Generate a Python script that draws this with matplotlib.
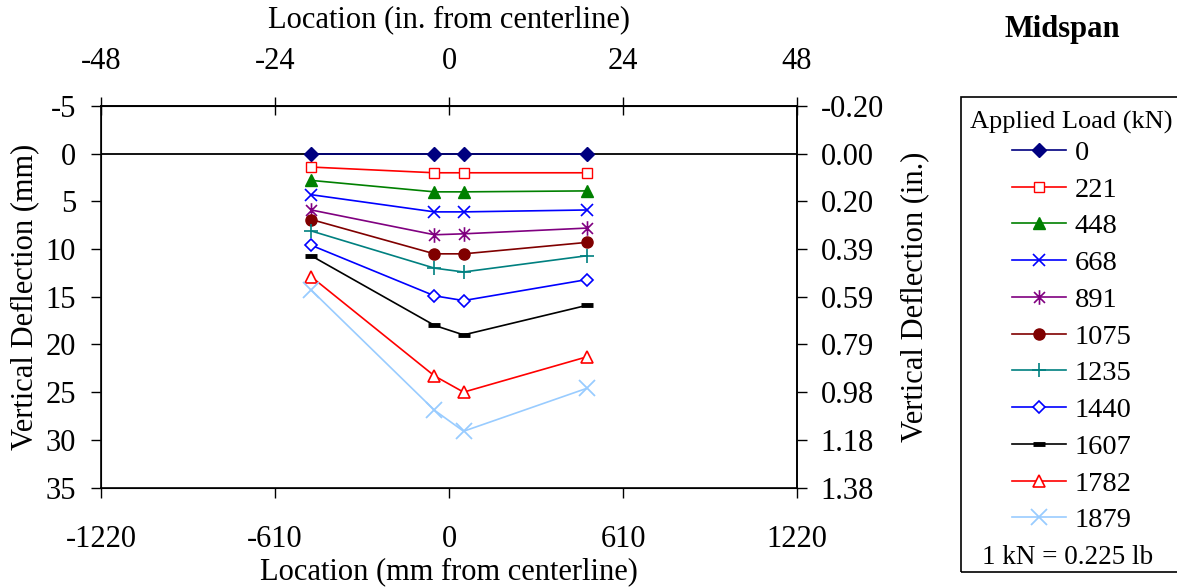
import matplotlib
matplotlib.use("Agg")
import matplotlib.pyplot as plt
from matplotlib.path import Path
from matplotlib.patches import Rectangle
from matplotlib.ticker import FuncFormatter

plt.rcParams['font.family'] = ['Liberation Serif', 'DejaVu Serif']
plt.rcParams['axes.unicode_minus'] = False

# Gauge locations (mm from centerline)
locations_mm = [-483, -51, 51, 483]

# Applied loads (kN) and measured vertical deflections (mm, downward positive)
loads = ["0", "221", "448", "668", "891", "1075", "1235", "1440", "1607", "1782", "1879"]
defl_0 = [0.0, 0.0, 0.0, 0.0]
defl_221 = [1.4, 2.0, 2.0, 2.0]
defl_448 = [2.8, 4.0, 4.0, 3.9]
defl_668 = [4.3, 6.1, 6.1, 5.9]
defl_891 = [5.9, 8.5, 8.4, 7.8]
defl_1075 = [6.9, 10.5, 10.5, 9.3]
defl_1235 = [8.1, 12.0, 12.4, 10.7]
defl_1440 = [9.6, 14.9, 15.4, 13.2]
defl_1607 = [10.7, 18.0, 19.0, 15.9]
defl_1782 = [12.9, 23.3, 25.0, 21.3]
defl_1879 = [14.3, 26.9, 29.1, 24.6]

series = [defl_0, defl_221, defl_448, defl_668, defl_891, defl_1075,
          defl_1235, defl_1440, defl_1607, defl_1782, defl_1879]

# Star marker: vertical stroke plus an X
star = Path([(0, -1), (0, 1), (-0.75, -0.75), (0.75, 0.75), (-0.75, 0.75), (0.75, -0.75)],
            [Path.MOVETO, Path.LINETO, Path.MOVETO, Path.LINETO, Path.MOVETO, Path.LINETO])

styles = [
    dict(color="#000080", marker="D", ms=7, mfc="#000080"),
    dict(color="#FF0000", marker="s", ms=7.5, mfc="white"),
    dict(color="#008000", marker="^", ms=9, mfc="#008000"),
    dict(color="#0000FF", marker="x", ms=8.5, mfc="none", mew=1.2),
    dict(color="#800080", marker=star, ms=10.5, mfc="none", mew=1.2),
    dict(color="#800000", marker="o", ms=8, mfc="#800000"),
    dict(color="#008080", marker="+", ms=9.5, mfc="none", mew=1.2),
    dict(color="#0000FF", marker="D", ms=6, mfc="white", mew=1.2),
    dict(color="#000000", marker="_", ms=8.5, mfc="none", mew=3.5),
    dict(color="#FF0000", marker="^", ms=9, mfc="white", mew=1.2),
    dict(color="#99CCFF", marker="x", ms=12, mfc="none", mew=1.3),
]

fig = plt.figure(figsize=(11.77, 5.88), dpi=100)
ax = fig.add_axes([0.0858, 0.1709, 0.5914, 0.6488])

ax.axhline(0, color="black", lw=1.3, zorder=1.5)

for vals, lab, st in zip(series, loads, styles):
    st = dict(st)
    color = st.pop("color")
    ax.plot(locations_mm, vals, color=color, mec=color, lw=1.2, label=lab, zorder=3, **st)

ax.set_xlim(-1220, 1220)
ax.set_ylim(35, -5)
ax.set_xticks([-1220, -610, 0, 610, 1220])
ax.set_yticks(range(-5, 36, 5))

for s in ax.spines.values():
    s.set_linewidth(1.2)

ax.tick_params(axis="both", labelsize=22, direction="out", length=7, width=1.0)
ax.tick_params(axis="x", pad=20)
ax.tick_params(axis="y", pad=11)

ax.set_xlabel("Location (mm from centerline)", fontsize=22)
ax.xaxis.set_label_coords(0.5, -0.222)
ax.xaxis.label.set_va("center")
ax.set_ylabel("Vertical Deflection (mm)", fontsize=22)
ax.yaxis.set_label_coords(-0.109, 0.5)
ax.yaxis.label.set_va("center")

# Secondary axes in inches
top = ax.secondary_xaxis("top", functions=(lambda x: x / 25.4, lambda x: x * 25.4))
top.set_xticks([-48, -24, 0, 24, 48])
top.tick_params(labelsize=22, direction="inout", length=13, width=1.0, pad=15)
top.spines["top"].set_linewidth(1.2)
fig.text(449 / 1177, 1 - 20 / 588, "Location (in. from centerline)", fontsize=22,
         ha="center", va="center")

right = ax.twinx()
right.set_ylim(35, -5)
right.set_yticks(range(-5, 36, 5))
right.yaxis.set_major_formatter(FuncFormatter(lambda v, p: f"{v / 25.4:.2f}"))
right.tick_params(labelsize=22, direction="out", length=7, width=1.0, pad=10)
right.spines["right"].set_linewidth(1.2)
right.set_ylabel("Vertical Deflection (in.)", fontsize=22)
right.yaxis.set_label_coords(1.1695, 0.5)
right.yaxis.label.set_va("center")

fig.text(1062 / 1177, 1 - 29 / 588, "Midspan", fontsize=22, fontweight="bold",
         ha="center", va="center")

# Legend panel
frame = Rectangle((961 / 1177, 1 - 572 / 588), 1.0, (572 - 97) / 588,
                  transform=fig.transFigure, fill=False, lw=1.2, ec="black", clip_on=False)
fig.add_artist(frame)
handles, labels = ax.get_legend_handles_labels()
leg = fig.legend(handles, labels, loc="upper left",
                 bbox_to_anchor=(1012 / 1177, 1 - 140 / 588),
                 frameon=False, fontsize=20.5, handlelength=1.9, handletextpad=0.3,
                 labelspacing=0.38, borderpad=0, borderaxespad=0)
fig.text(1071 / 1177, 1 - 122 / 588, "Applied Load (kN)", fontsize=19,
         ha="center", va="center")
fig.text(1068 / 1177, 1 - 557 / 588, "1 kN = 0.225 lb", fontsize=19.5,
         ha="center", va="center")

fig.savefig("out.png", dpi=100)
